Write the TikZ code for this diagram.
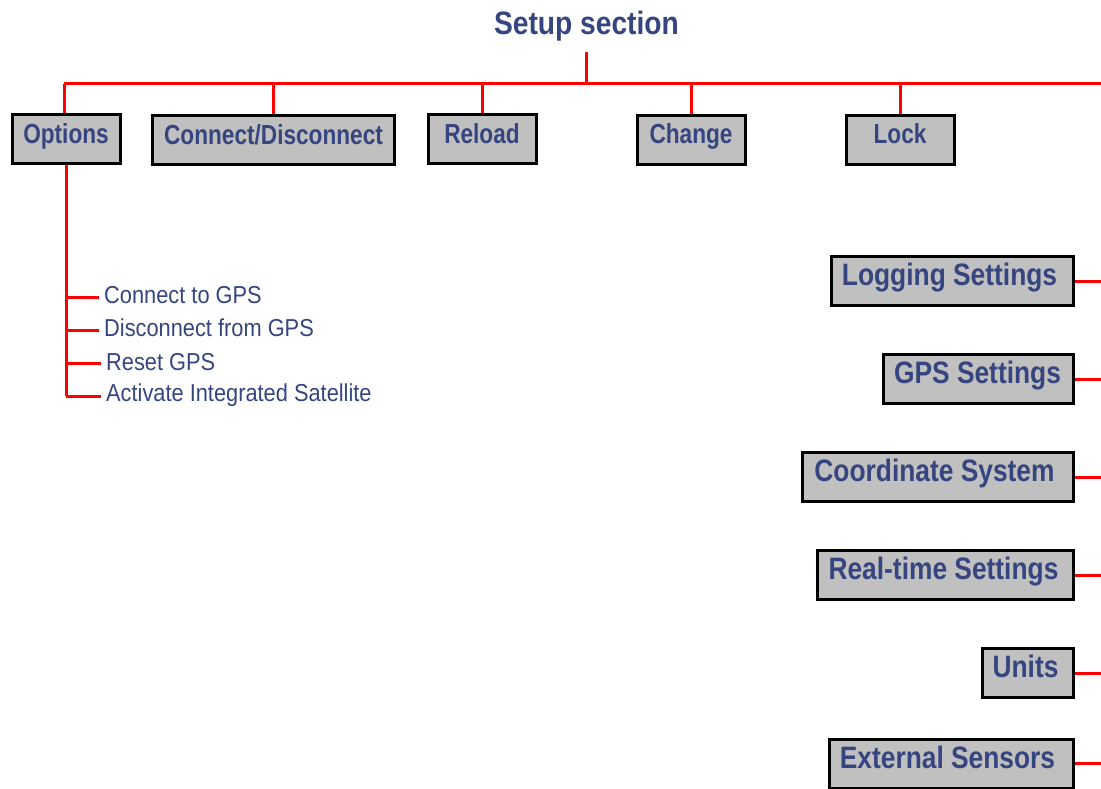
\documentclass[tikz,border=0pt]{standalone}
\usepackage{fontspec}
\newfontfamily\titlefont[FakeStretch=0.87]{Liberation Sans}
\newfontfamily\boxfont[FakeStretch=0.82]{Liberation Sans}
\newfontfamily\sidefont[FakeStretch=0.85]{Liberation Sans}
\newfontfamily\listfont[FakeStretch=0.89]{Liberation Sans}
\definecolor{txtblue}{RGB}{54,69,128}
\definecolor{boxgray}{RGB}{192,192,192}
\definecolor{linkred}{RGB}{255,0,0}
\tikzset{
  box/.style={draw=black, line width=3pt, fill=boxgray, rectangle, inner sep=0pt, minimum height=49pt},
  boxtext/.style={anchor=base, inner sep=0pt, text=txtblue, font=\boxfont\bfseries\fontsize{27.6}{30}\selectfont},
  sidetext/.style={anchor=base, inner sep=0pt, text=txtblue, font=\sidefont\bfseries\fontsize{31}{34}\selectfont},
  itemtext/.style={anchor=base west, inner sep=0pt, text=txtblue, font=\listfont\fontsize{24.5}{28}\selectfont},
  link/.style={draw=linkred, line width=3pt},
}
\begin{document}
\begin{tikzpicture}[x=1pt, y=-1pt]
\useasboundingbox (0,0) rectangle (1101,789);
% title
\node[anchor=base, inner sep=0pt, text=txtblue, font=\titlefont\bfseries\fontsize{32.4}{36}\selectfont] (title) at (586.5,35) {Setup section};
\coordinate (bus) at (586.5,84);
\coordinate (busL) at (64,84);
\coordinate (busR) at (1101,84);
% top row boxes
\node[box, minimum width=108pt] (opt) at (66,139.5) {};
\node[box, minimum width=242pt] (con) at (273,140.5) {};
\node[box, minimum width=108pt] (rel) at (482,139.5) {};
\node[box, minimum width=108pt] (chg) at (691,140) {};
\node[box, minimum width=108pt] (lck) at (900,140) {};
\node[boxtext] (optT) at (66,143.5) {Options};
\node[boxtext] (conT) at (273.5,145) {Connect/Disconnect};
\node[boxtext] (relT) at (482,143.5) {Reload};
\node[boxtext] (chgT) at (691,144) {Change};
\node[boxtext] (lckT) at (900,144) {Lock};
% right column boxes
\node[box, minimum width=242pt] (log) at (952,281) {};
\node[box, minimum width=190pt] (gps) at (978,379) {};
\node[box, minimum width=271pt] (crd) at (937.5,477) {};
\node[box, minimum width=256pt] (rts) at (945,575) {};
\node[box, minimum width=91pt]  (uni) at (1027.5,673) {};
\node[box, minimum width=244pt] (ext) at (951,763.5) {};
\node[sidetext] (logT) at (949.5,285) {Logging Settings};
\node[sidetext] (gpsT) at (977.5,383) {GPS Settings};
\node[sidetext] (crdT) at (934.5,481) {Coordinate System};
\node[sidetext] (rtsT) at (943.5,579) {Real-time Settings};
\node[sidetext] (uniT) at (1025.5,677) {Units};
\node[sidetext] (extT) at (947.5,768) {External Sensors};
% list items
\node[itemtext] (i1) at (104,303) {Connect to GPS};
\node[itemtext] (i2) at (104,336.5) {Disconnect from GPS};
\node[itemtext] (i3) at (106,370) {Reset GPS};
\node[itemtext] (i4) at (106,401.5) {Activate Integrated Satellite};
\coordinate (b1) at (66,297.5);
\coordinate (b2) at (66,330);
\coordinate (b3) at (66,363);
\coordinate (b4) at (66,396);
% connectors
\draw[link] (bus |- 0,52) -- (bus);
\draw[link] (busL) -- (busR);
\draw[link] (opt.north -| busL) -- (busL);
\draw[link] (con.north) -- (con.north |- bus);
\draw[link] (rel.north) -- (rel.north |- bus);
\draw[link] (chg.north) -- (chg.north |- bus);
\draw[link] (lck.north) -- (lck.north |- bus);
\draw[link] (opt.south) -- (b4);
\foreach \b/\i in {b1/i1,b2/i2,b3/i3,b4/i4}
  \draw[link] (\b) -- ([xshift=-5pt]\b -| \i.west);
\foreach \n in {log,gps,crd,rts,uni,ext}
  \draw[link] (\n.east) -- (\n.east -| busR);
\end{tikzpicture}
\end{document}
